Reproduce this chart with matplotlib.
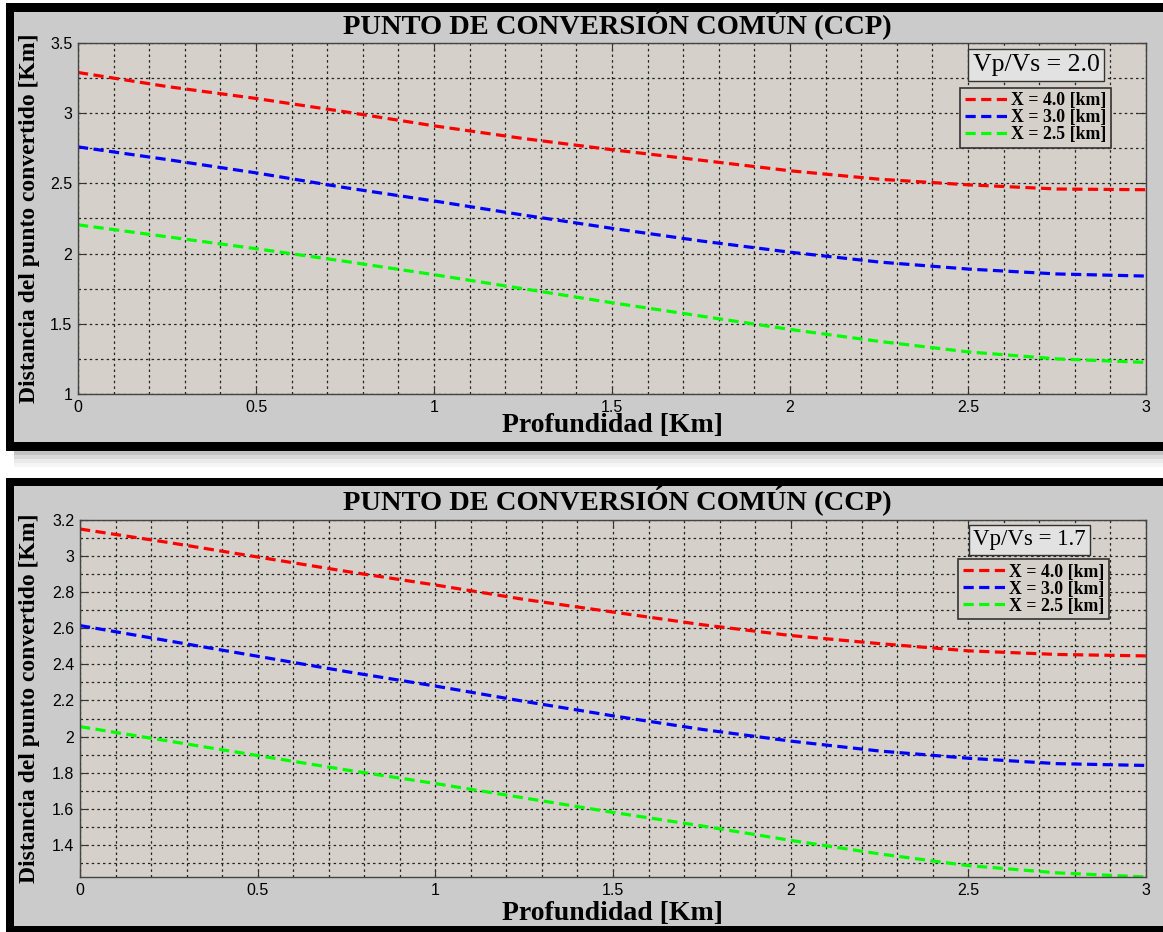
import matplotlib
matplotlib.use("Agg")
import matplotlib.pyplot as plt
from matplotlib.patches import Rectangle
from matplotlib.ticker import MultipleLocator, FormatStrFormatter

# profundidad [km]
depth = [0, 0.25, 0.5, 0.75, 1.0, 1.25, 1.5, 1.75, 2.0, 2.25, 2.5, 2.75, 3.0]

# Vp/Vs = 2.0
ccp20_x40 = [3.29, 3.19, 3.105, 3.01, 2.91, 2.82, 2.74, 2.665, 2.59, 2.53, 2.49, 2.46, 2.455]
ccp20_x30 = [2.76, 2.67, 2.575, 2.47, 2.375, 2.275, 2.18, 2.09, 2.01, 1.94, 1.89, 1.855, 1.84]
ccp20_x25 = [2.205, 2.12, 2.035, 1.945, 1.85, 1.75, 1.65, 1.555, 1.46, 1.375, 1.30, 1.25, 1.225]

# Vp/Vs = 1.7
ccp17_x40 = [3.15, 3.075, 2.995, 2.915, 2.84, 2.76, 2.69, 2.62, 2.56, 2.515, 2.475, 2.455, 2.447]
ccp17_x30 = [2.615, 2.53, 2.445, 2.36, 2.28, 2.195, 2.115, 2.04, 1.975, 1.92, 1.88, 1.85, 1.84]
ccp17_x25 = [2.055, 1.975, 1.895, 1.815, 1.74, 1.66, 1.58, 1.505, 1.425, 1.35, 1.285, 1.245, 1.222]

labels = ["X = 4.0 [km]", "X = 3.0 [km]", "X = 2.5 [km]"]
colors = ["#ff0000", "#0000ff", "#00ff00"]

W, H = 1163, 932
BG = "#cbcbcb"
AXBG = "#d5d1ca"
SERIF = "Liberation Serif"
SANS = "Liberation Sans"


def px_rect(fig, x0, y0, x1, y1, color, **kw):
    # pixel coords measured from the top-left corner
    fig.patches.append(Rectangle((x0 / W, 1 - y1 / H), (x1 - x0) / W, (y1 - y0) / H,
                                 transform=fig.transFigure, facecolor=color,
                                 edgecolor="none", zorder=-10, **kw))


def panel(fig, box, series, ylim, ymajor, yminor, ratio, leg_anchor, vbox, ttl_y, xl_y, yl_x):
    x0, y0, x1, y1 = box
    ax = fig.add_axes([x0 / W, 1 - y1 / H, (x1 - x0) / W, (y1 - y0) / H])
    ax.set_facecolor(AXBG)
    for ys, c, lab in zip(series, colors, labels):
        ax.plot(depth, ys, color=c, lw=2.3, linestyle=(0, (3.2, 1.7)), label=lab)
    ax.set_xlim(0, 3)
    ax.set_ylim(*ylim)
    ax.xaxis.set_major_locator(MultipleLocator(0.5))
    ax.xaxis.set_minor_locator(MultipleLocator(0.1))
    ax.yaxis.set_major_locator(MultipleLocator(ymajor))
    ax.yaxis.set_minor_locator(MultipleLocator(yminor))
    ax.xaxis.set_major_formatter(FormatStrFormatter("%g"))
    ax.yaxis.set_major_formatter(FormatStrFormatter("%g"))
    ax.grid(which="both", color="#222222", lw=0.9, linestyle=(0, (2, 2.5)))
    ax.set_axisbelow(True)
    ax.tick_params(which="major", direction="in", length=6, top=True, right=True,
                   labelsize=11.5, color="#333333", pad=4)
    ax.tick_params(which="minor", length=0)
    for lbl in ax.get_xticklabels() + ax.get_yticklabels():
        lbl.set_fontfamily(SANS)
    for s in ax.spines.values():
        s.set_color("#444444")
        s.set_linewidth(1.0)

    fig.text(0.531, 1 - ttl_y / H, "PUNTO DE CONVERSIÓN COMÚN (CCP)", ha="center", va="center",
             fontsize=20.5, fontweight="bold", family=SERIF)
    fig.text(0.527, 1 - xl_y / H, "Profundidad [Km]", ha="center", va="center",
             fontsize=20, fontweight="bold", family=SERIF)
    fig.text(yl_x / W, 1 - (y0 + y1) / 2 / H, "Distancia del punto convertido [Km]",
             ha="center", va="center", rotation=90, fontsize=17, fontweight="bold", family=SERIF)

    ax.text(vbox[0], vbox[1], f"Vp/Vs = {ratio}", transform=ax.transAxes,
            ha="center", va="center", fontsize=vbox[2], family=SERIF,
            bbox=dict(boxstyle="square,pad=0.18", facecolor="#e2e2e2", edgecolor="#333333", lw=1))

    leg = ax.legend(loc="upper left", bbox_to_anchor=leg_anchor, borderaxespad=0,
                    prop=dict(family=SERIF, weight="bold", size=12.8), handlelength=2.5,
                    handletextpad=0.1, labelspacing=0.0, borderpad=0.25,
                    fancybox=False, framealpha=1, facecolor=AXBG, edgecolor="#333333")
    leg.get_frame().set_linewidth(1.2)
    return ax


fig = plt.figure(figsize=(W / 100, H / 100), dpi=100)
fig.patch.set_facecolor("white")

# panel frames
px_rect(fig, 6, 3, W, 451, "black")
px_rect(fig, 14, 12, W, 442, BG)
for i, a in enumerate([0.35, 0.22, 0.12, 0.06]):
    px_rect(fig, 14, 451 + i * 4, W, 455 + i * 4, "#555555", alpha=a)
px_rect(fig, 6, 478, W, H, "black")
px_rect(fig, 14, 486, W, 926, BG)

panel(fig, (78, 43, 1146, 394), [ccp20_x40, ccp20_x30, ccp20_x25], (1, 3.5), 0.5, 0.25,
      "2.0", (0.826, 0.872), (0.897, 0.937, 18.5), 24, 426, 30)
panel(fig, (80, 520, 1146, 877), [ccp17_x40, ccp17_x30, ccp17_x25], (1.222, 3.2), 0.2, 0.1,
      "1.7", (0.824, 0.890), (0.891, 0.944, 16.5), 500, 913, 30)

fig.savefig("out.png", dpi=100, facecolor=fig.get_facecolor())
